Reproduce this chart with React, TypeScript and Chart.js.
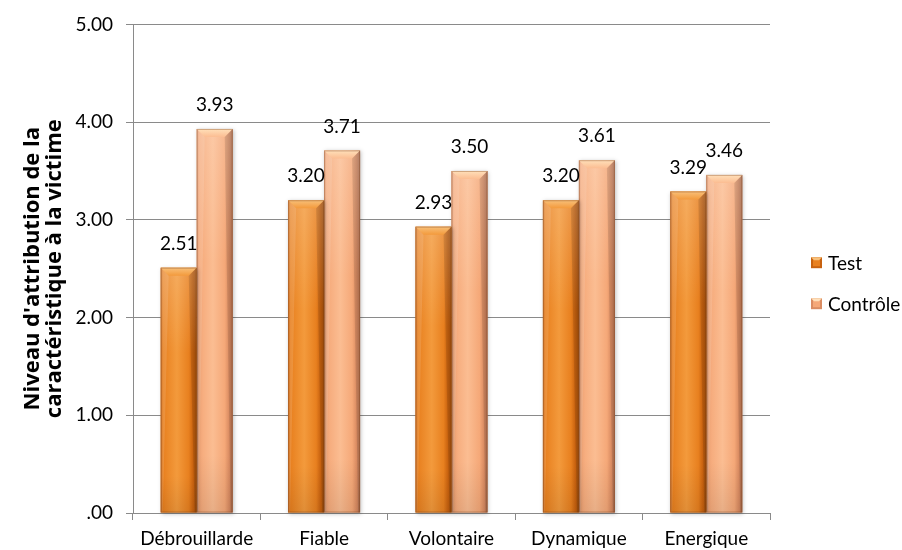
import React, { useEffect, useRef } from "react";
import { Chart, registerables } from "chart.js";

Chart.register(...registerables);

const categories = ["Débrouillarde", "Fiable", "Volontaire", "Dynamique", "Energique"];
const testValues = [2.51, 3.2, 2.93, 3.2, 3.29];
const controleValues = [3.93, 3.71, 3.5, 3.61, 3.46];
const seriesLabels = ["Test", "Contrôle"];
const yTitle = ["Niveau d'attribution de la", "caractéristique à la victime"];
const yMin = 0;
const yMax = 5;
const yStep = 1;

type Pal = { base: string; light: string; dark: string; bevel: string; edge: string };
const palettes: Pal[] = [
  { base: "#E8801F", light: "#F39A3C", dark: "#C8620F", bevel: "#F8C07A", edge: "#A9520C" },
  { base: "#F5A878", light: "#FBBD92", dark: "#DA8C62", bevel: "#FFE0BA", edge: "#B87454" },
];

const FONT = "Lato, 'Open Sans', sans-serif";
const TITLE_FONT = "'Open Sans', Lato, sans-serif";
const FS = 19;

function drawFancyBar(ctx: CanvasRenderingContext2D, x0: number, x1: number, top: number, bottom: number, p: Pal) {
  const w = x1 - x0;
  const h = bottom - top;
  if (h <= 0 || w <= 0) return;
  ctx.save();
  ctx.shadowColor = "rgba(0,0,0,0.25)";
  ctx.shadowBlur = 4;
  ctx.shadowOffsetX = 1;
  ctx.shadowOffsetY = 1;
  const g = ctx.createLinearGradient(x0, 0, x1, 0);
  g.addColorStop(0, p.dark);
  g.addColorStop(0.07, p.base);
  g.addColorStop(0.45, p.light);
  g.addColorStop(0.78, p.base);
  g.addColorStop(0.9, p.dark);
  g.addColorStop(1, p.edge);
  ctx.fillStyle = g;
  ctx.fillRect(x0, top, w, h);
  ctx.restore();

  ctx.save();
  const vg = ctx.createLinearGradient(0, top, 0, bottom);
  vg.addColorStop(0, "rgba(255,255,255,0.18)");
  vg.addColorStop(0.35, "rgba(255,255,255,0.0)");
  vg.addColorStop(0.85, "rgba(0,0,0,0.0)");
  vg.addColorStop(1, "rgba(0,0,0,0.08)");
  ctx.fillStyle = vg;
  ctx.fillRect(x0, top, w, h);

  const b = Math.min(8, h / 2, w / 3);
  const bg = ctx.createLinearGradient(0, top, 0, top + b);
  bg.addColorStop(0, p.bevel);
  bg.addColorStop(1, p.light);
  ctx.fillStyle = bg;
  ctx.beginPath();
  ctx.moveTo(x0, top);
  ctx.lineTo(x1, top);
  ctx.lineTo(x1 - b, top + b);
  ctx.lineTo(x0 + b, top + b);
  ctx.closePath();
  ctx.fill();

  ctx.fillStyle = "rgba(255,255,255,0.12)";
  ctx.beginPath();
  ctx.moveTo(x0, top);
  ctx.lineTo(x0 + b, top + b);
  ctx.lineTo(x0 + 2, bottom);
  ctx.lineTo(x0, bottom);
  ctx.closePath();
  ctx.fill();
  ctx.fillStyle = "rgba(0,0,0,0.10)";
  ctx.beginPath();
  ctx.moveTo(x1, top);
  ctx.lineTo(x1 - b, top + b);
  ctx.lineTo(x1 - 2, bottom);
  ctx.lineTo(x1, bottom);
  ctx.closePath();
  ctx.fill();

  ctx.strokeStyle = "rgba(120,60,20,0.35)";
  ctx.lineWidth = 1;
  ctx.strokeRect(x0 + 0.5, top + 0.5, w - 1, h - 1);
  ctx.restore();
}

const fancyBars = {
  id: "fancyBars",
  afterDatasetDraw(chart: any, args: any) {
    const ctx = chart.ctx as CanvasRenderingContext2D;
    const meta = args.meta;
    const pal = palettes[args.index % palettes.length];
    ctx.save();
    meta.data.forEach((el: any) => {
      const { x, y, base, width } = el.getProps(["x", "y", "base", "width"], true);
      drawFancyBar(ctx, x - width / 2, x + width / 2, Math.min(y, base), Math.max(y, base), pal);
    });
    ctx.restore();
  },
};

const valueLabels = {
  id: "valueLabels",
  afterDatasetsDraw(chart: any) {
    const ctx = chart.ctx as CanvasRenderingContext2D;
    ctx.save();
    ctx.font = `${FS}px ${FONT}`;
    ctx.fillStyle = "#000";
    ctx.textAlign = "center";
    ctx.textBaseline = "middle";
    chart.data.datasets.forEach((ds: any, di: number) => {
      const meta = chart.getDatasetMeta(di);
      meta.data.forEach((el: any, i: number) => {
        const v = ds.data[i] as number;
        ctx.fillText(v.toFixed(2), el.x, el.y - 24);
      });
    });
    ctx.restore();
  },
};

const customLegend = {
  id: "customLegend",
  afterDraw(chart: any) {
    const ctx = chart.ctx as CanvasRenderingContext2D;
    const area = chart.chartArea;
    const x = area.right + 41;
    const yc = (area.top + area.bottom) / 2;
    const gap = 41;
    ctx.save();
    ctx.font = `${FS}px ${FONT}`;
    ctx.textBaseline = "middle";
    ctx.textAlign = "left";
    chart.data.datasets.forEach((ds: any, i: number) => {
      const y = yc - 6 + i * gap;
      const pal = palettes[i % palettes.length];
      const s = 11;
      const bx = x;
      const by = y - s / 2;
      ctx.fillStyle = pal.dark;
      ctx.fillRect(bx, by, s, s);
      ctx.fillStyle = pal.base;
      ctx.fillRect(bx + 2, by + 2, s - 4, s - 4);
      ctx.fillStyle = pal.bevel;
      ctx.beginPath();
      ctx.moveTo(bx, by);
      ctx.lineTo(bx + s, by);
      ctx.lineTo(bx + s - 3, by + 3);
      ctx.lineTo(bx + 3, by + 3);
      ctx.closePath();
      ctx.fill();
      ctx.fillStyle = "#000";
      ctx.fillText(ds.label, x + 17, y + 1);
    });
    ctx.restore();
  },
};

export default function App() {
  const canvasRef = useRef<HTMLCanvasElement | null>(null);

  useEffect(() => {
    const canvas = canvasRef.current;
    if (!canvas) return;
    const chart = new Chart(canvas, {
      type: "bar",
      data: {
        labels: categories,
        datasets: [
          { label: seriesLabels[0], data: testValues, backgroundColor: palettes[0].base, borderWidth: 0 },
          { label: seriesLabels[1], data: controleValues, backgroundColor: palettes[1].base, borderWidth: 0 },
        ],
      },
      options: {
        animation: false,
        responsive: true,
        maintainAspectRatio: false,
        layout: { padding: { top: 24, right: 132, left: 0, bottom: 0 } },
        datasets: { bar: { categoryPercentage: 0.565, barPercentage: 1.0 } },
        plugins: {
          legend: { display: false },
          tooltip: { enabled: false },
        },
        scales: {
          x: {
            grid: { display: true, drawOnChartArea: false, drawTicks: true, tickLength: 7, color: "#8a8a8a", offset: true },
            border: { display: true, color: "#8a8a8a", width: 1 },
            ticks: { font: { family: FONT, size: FS }, color: "#000", padding: 7, maxRotation: 0, autoSkip: false },
            afterFit: (scale: any) => {
              scale.height = 37;
            },
          },
          y: {
            min: yMin,
            max: yMax,
            grid: { color: "#8a8a8a", lineWidth: 1, drawTicks: true, tickLength: 7 },
            border: { display: true, color: "#8a8a8a", width: 1 },
            ticks: {
              stepSize: yStep,
              font: { family: FONT, size: FS },
              color: "#000",
              padding: 13,
              callback: (v: any) => (Number(v) === 0 ? ".00" : Number(v).toFixed(2)),
            },
            title: {
              display: true,
              text: yTitle,
              color: "#000",
              font: { family: TITLE_FONT, size: 22, weight: "bold", lineHeight: 1.0 },
              padding: { top: 22, bottom: 0 },
            },
            afterFit: (scale: any) => {
              scale.width = 133;
            },
          },
        },
      },
      plugins: [fancyBars, valueLabels, customLegend],
    });
    return () => chart.destroy();
  }, []);

  return (
    <div style={{ position: "absolute", left: 0, top: 0, width: 902, height: 550, background: "#fff" }}>
      <canvas ref={canvasRef} style={{ display: "block" }} />
    </div>
  );
}
